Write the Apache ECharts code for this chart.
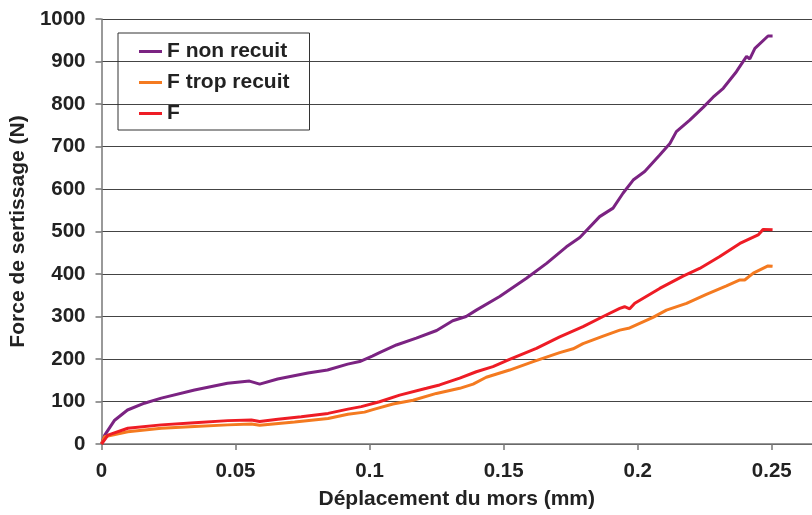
<!DOCTYPE html>
<html><head><meta charset="utf-8">
<script src="https://cdn.jsdelivr.net/npm/echarts@6/dist/echarts.min.js"></script>
<style>html,body{margin:0;padding:0;background:#fff}#c{width:812px;height:515px}</style>
</head><body><div id="c"></div>
<script>
const seriesNames = ['F non recuit', 'F trop recuit', 'F'];
const xTicks = [0, 0.05, 0.1, 0.15, 0.2, 0.25];
const yTicks = [0, 100, 200, 300, 400, 500, 600, 700, 800, 900, 1000];

const xNonRecuit = [0, 0.0012, 0.0049, 0.0097, 0.016, 0.0223, 0.0347, 0.047, 0.0552, 0.059, 0.0657, 0.077, 0.0843, 0.0918, 0.0963, 0.101, 0.1037, 0.11, 0.1174, 0.125, 0.131, 0.136, 0.1398, 0.1485, 0.1585, 0.166, 0.1734, 0.1784, 0.1858, 0.1908, 0.1945, 0.1983, 0.2026, 0.2082, 0.212, 0.2144, 0.2194, 0.2244, 0.2281, 0.2319, 0.2368, 0.2406, 0.2418, 0.2437, 0.2486, 0.2503];
const fNonRecuit = [0, 21, 56, 80, 96, 108, 127, 143, 148, 141, 153, 167, 174, 188, 194, 207, 215, 233, 249, 267, 290, 300, 315, 347, 390, 425, 464, 486, 535, 555, 590, 621, 641, 680, 707, 735, 762, 792, 816, 837, 876, 912, 906, 931, 960, 960];

const xTropRecuit = [0, 0.0011, 0.0098, 0.0223, 0.0347, 0.0471, 0.0559, 0.059, 0.072, 0.0845, 0.0919, 0.0981, 0.1012, 0.1087, 0.1162, 0.1249, 0.1336, 0.1386, 0.1435, 0.1522, 0.161, 0.1709, 0.1759, 0.1796, 0.1871, 0.1933, 0.197, 0.2057, 0.2107, 0.2182, 0.2256, 0.2331, 0.2381, 0.2399, 0.2431, 0.2486, 0.2503];
const fTropRecuit = [0, 17, 29, 37, 41, 45, 47, 44, 52, 60, 70, 75, 81, 94, 103, 119, 131, 141, 157, 174, 194, 215, 224, 236, 254, 268, 273, 298, 315, 331, 352, 372, 386, 386, 402, 419, 418];

const xF = [0, 0.0024, 0.0098, 0.0223, 0.0347, 0.0471, 0.0559, 0.059, 0.0658, 0.0745, 0.0845, 0.0919, 0.0969, 0.1037, 0.1112, 0.1212, 0.1261, 0.1336, 0.1398, 0.146, 0.1522, 0.1622, 0.1709, 0.1796, 0.1871, 0.1933, 0.1951, 0.197, 0.1989, 0.2082, 0.2169, 0.2231, 0.2306, 0.2381, 0.2449, 0.2468, 0.2503];
const fF = [0, 21, 37, 45, 50, 55, 56.5, 53, 58, 64, 72, 82, 88, 99.5, 115, 131, 139, 155, 170, 182, 199, 225, 252, 276, 300, 319, 323, 318, 331, 366, 395, 413, 441, 472, 492, 505, 504];

const colors = ['#7B2382', '#F47A20', '#EE1C25'];
const pair = (xs, ys) => xs.map((x, i) => [x, ys[i]]);
const font = '"Liberation Sans", Arial, sans-serif';

const chart = echarts.init(document.getElementById('c'), null, {renderer: 'canvas'});
chart.setOption({
  animation: false,
  backgroundColor: '#fff',
  color: colors,
  grid: {left: 101, right: 0, top: 19, bottom: 71, containLabel: false},
  legend: {
    orient: 'vertical', left: 118, top: 33,
    data: seriesNames,
    borderColor: '#333', borderWidth: 1, borderRadius: 0,
    padding: [8, 20, 6, 21],
    itemWidth: 23, itemHeight: 3, itemGap: 10,
    icon: 'rect',
    textStyle: {fontFamily: font, fontWeight: 'bold', fontSize: 21, color: '#222'}
  },
  xAxis: {
    type: 'value', min: 0, max: 0.265, interval: 0.05,
    name: 'Déplacement du mors (mm)', nameLocation: 'middle', nameGap: 45,
    nameTextStyle: {fontFamily: font, fontWeight: 'bold', fontSize: 21, color: '#222'},
    axisLine: {show: true, onZero: false, lineStyle: {color: '#777', width: 1.5}},
    axisTick: {show: true, inside: false, length: 6, lineStyle: {color: '#777', width: 1.5}},
    axisLabel: {fontFamily: font, fontWeight: 'bold', fontSize: 20.5, color: '#222', margin: 17, showMaxLabel: false,
      formatter: v => xTicks.some(t => Math.abs(t - v) < 1e-9) ? String(+v.toFixed(2)) : ''},
    splitLine: {show: false}
  },
  yAxis: {
    type: 'value', min: 0, max: 1000, interval: 100,
    name: 'Force de sertissage (N)', nameLocation: 'middle', nameGap: 66, nameRotate: 90,
    nameTextStyle: {fontFamily: font, fontWeight: 'bold', fontSize: 21, color: '#222'},
    axisLine: {show: true, lineStyle: {color: '#777', width: 1.5}},
    axisTick: {show: true, inside: false, length: 6, lineStyle: {color: '#777', width: 1.5}},
    axisLabel: {fontFamily: font, fontWeight: 'bold', fontSize: 20.5, color: '#222', margin: 16,
      formatter: v => yTicks.includes(v) ? String(v) : ''},
    splitLine: {show: true, lineStyle: {color: '#444', width: 1.2}}
  },
  series: [
    {name: seriesNames[0], type: 'line', data: pair(xNonRecuit, fNonRecuit), showSymbol: false, symbol: 'none', lineStyle: {width: 3}, z: 3},
    {name: seriesNames[1], type: 'line', data: pair(xTropRecuit, fTropRecuit), showSymbol: false, symbol: 'none', lineStyle: {width: 3}, z: 3},
    {name: seriesNames[2], type: 'line', data: pair(xF, fF), showSymbol: false, symbol: 'none', lineStyle: {width: 3}, z: 4}
  ]
});
</script></body></html>
